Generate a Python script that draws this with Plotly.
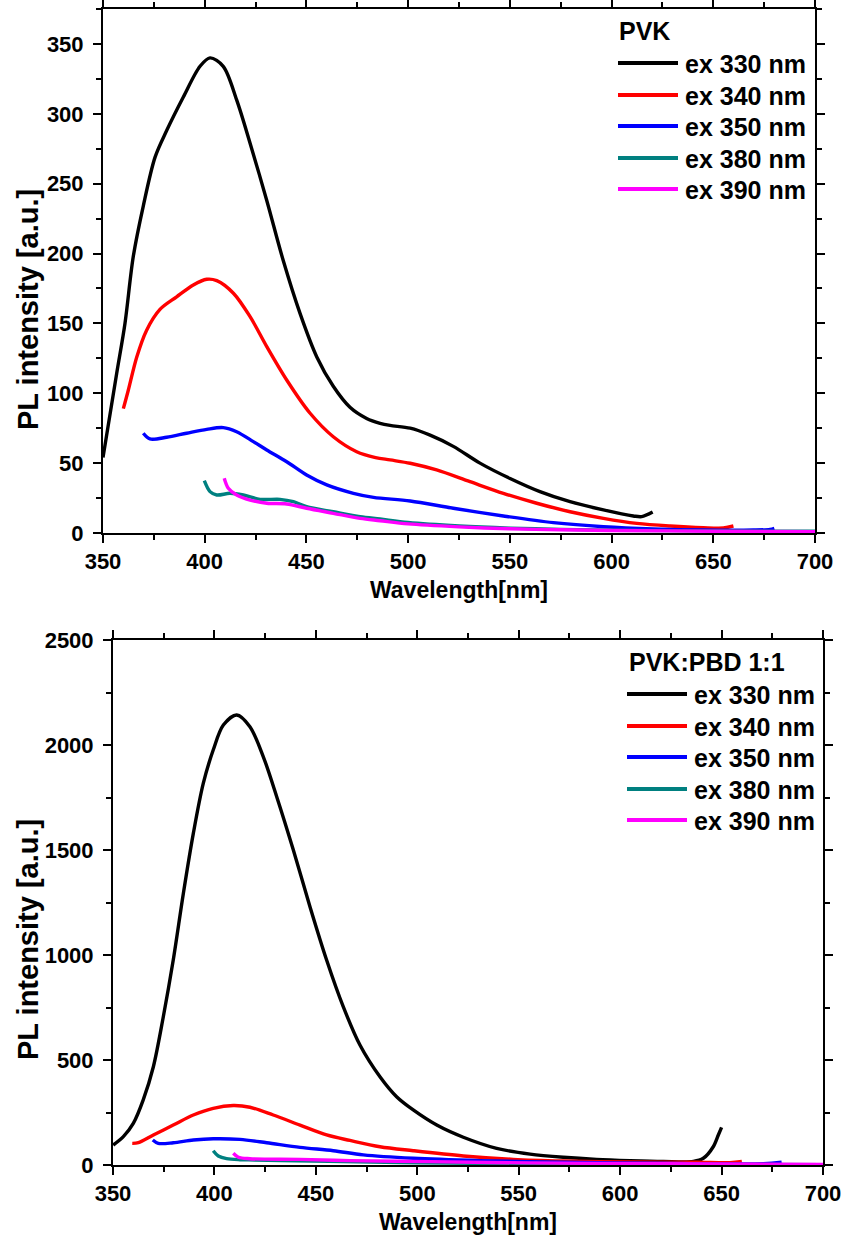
import plotly.graph_objects as go

# ---------------- data: PVK (top) ----------------
pvk_330_x = [350, 356.7, 360.8, 364.9, 369.8, 375.6, 381.3, 389.5, 397.7, 402.6, 409.1, 415.7, 422.3,
             430.5, 438.6, 446.9, 455.1, 463.2, 471.4, 479.6, 486.2, 491.1, 501, 510.8, 522.2, 535.3,
             550.1, 564.8, 579.6, 596, 610.7, 614.8, 620.2]
pvk_330_y = [54, 114, 150, 198, 234, 269, 288, 312, 334, 340, 334, 310, 279,
             238, 195, 157, 126, 105, 90, 82, 78.5, 77, 75, 70, 62, 50,
             39, 29.6, 22.4, 16.5, 12.2, 11.7, 15]

pvk_340_x = [360, 362.4, 366.6, 371.4, 378, 386.2, 394.4, 401, 405.9, 414.1, 422.3, 430.5, 440.3,
             451.8, 463.2, 474.7, 484, 491.1, 501, 514, 530.4, 546.8, 563.2, 579.6, 596, 612.4,
             628.8, 645.1, 655, 659.9]
pvk_340_y = [89, 102, 126, 145, 160, 169, 177.5, 181.6, 180.6, 171.6, 154.8, 133.4, 109.5,
             85.7, 68.9, 58.2, 54, 52.3, 49.9, 45.1, 36.7, 28.4, 21.3, 15.2, 10.5, 6.9,
             5, 3.8, 3.6, 5]

pvk_350_x = [369.8, 373.1, 381.3, 391.1, 401, 409.1, 415.7, 423.9, 430.5, 440.3, 450.1, 460, 473.1,
             483, 501, 522.2, 546.8, 571.4, 596, 620.6, 645.1, 669.7, 677.9, 680]
pvk_350_y = [71.4, 67.3, 68.5, 71.4, 74.2, 75.4, 72.5, 65.4, 59.4, 51, 41.5, 34.4, 28.4,
             25.5, 22.9, 17.7, 12.2, 7.4, 4.5, 2.9, 2.1, 2.1, 2.6, 3.4]

pvk_380_x = [399.8, 402.6, 405.9, 412.4, 419, 427.2, 437, 443.6, 450.1, 463.2, 476.4, 486.2,
             500, 525, 550, 575, 600, 650, 700]
pvk_380_y = [37.4, 29.6, 27.2, 28.4, 27.2, 24.1, 24.1, 22.4, 18.8, 15.2, 11.7, 10,
             7.5, 5, 3.5, 2.6, 2, 1.5, 1.2]

pvk_390_x = [409.6, 411.6, 415.7, 422.3, 430.5, 440.3, 450.1, 463.2, 476.4, 486.2,
             500, 525, 550, 575, 600, 650, 700]
pvk_390_y = [39.2, 32, 27.2, 23.6, 21.3, 20.8, 17.7, 14.1, 10.5, 8.8,
             6.5, 4.4, 3, 2.3, 1.8, 1.3, 1]

# ---------------- data: PVK:PBD 1:1 (bottom) ----------------
pbd_330_x = [350.1, 355.1, 360, 364.9, 369.9, 374.8, 379.7, 384.7, 389.6, 394.5, 399.4, 404.4, 411,
             417.5, 424.1, 430.7, 438.9, 447.1, 455.3, 463.5, 471.8, 481.6, 489.8, 498, 509.6,
             522.7, 539.1, 555.6, 572, 588.4, 604.9, 621.3, 636.1, 641, 645.9, 648.4, 650]
pbd_330_y = [95, 135, 198, 310, 468, 706, 976, 1294, 1579, 1817, 1976, 2095, 2143,
             2087, 1944, 1754, 1500, 1230, 976, 754, 570, 420, 325, 262, 190,
             132, 79, 52, 37, 27, 21, 17, 17, 32, 87, 143, 179]

pbd_340_x = [359.5, 362.5, 369.9, 379.7, 389.6, 399.4, 409.3, 417.5, 429, 442.2, 455.3, 466.8,
             481.6, 498, 522.7, 547.3, 572, 604.9, 637.7, 654.1, 660]
pbd_340_y = [103, 106, 143, 190, 238, 270, 283, 275, 238, 190, 143, 117,
             87, 68, 43, 27, 19, 14, 13, 11, 17]

pbd_350_x = [369.6, 372.3, 379.7, 389.6, 399.4, 412.6, 425.8, 442.2, 458.6, 473.4, 498,
             530.9, 572, 621.3, 670.6, 679.6]
pbd_350_y = [119, 103, 106, 119, 125, 122, 106, 84, 68, 48, 32,
             21, 13, 8, 6, 13]

pbd_380_x = [399.4, 401.9, 406, 412.6, 420, 440, 470, 500, 550, 600, 650, 700]
pbd_380_y = [68, 43, 30, 25, 24, 20, 15, 11, 7, 5, 3, 2]

pbd_390_x = [409.3, 411.8, 417.5, 442.2, 466.8, 506.3, 555, 621, 700]
pbd_390_y = [56, 37, 30, 27, 21, 16, 10, 6, 3]

names = ["ex 330 nm", "ex 340 nm", "ex 350 nm", "ex 380 nm", "ex 390 nm"]
colors = ["#000000", "#FF0000", "#0000FF", "#008080", "#FF00FF"]

top_series = [(pvk_330_x, pvk_330_y), (pvk_340_x, pvk_340_y), (pvk_350_x, pvk_350_y),
              (pvk_380_x, pvk_380_y), (pvk_390_x, pvk_390_y)]
bot_series = [(pbd_330_x, pbd_330_y), (pbd_340_x, pbd_340_y), (pbd_350_x, pbd_350_y),
              (pbd_380_x, pbd_380_y), (pbd_390_x, pbd_390_y)]

W, H = 841, 1247
FONT = "Liberation Sans, Arial, sans-serif"

fig = go.Figure()
for (xs, ys), nm, c in zip(top_series, names, colors):
    fig.add_trace(go.Scatter(x=xs, y=ys, name=nm, mode="lines", xaxis="x", yaxis="y",
                             line=dict(color=c, width=3.4, shape="spline", smoothing=0.9),
                             showlegend=False))
for (xs, ys), nm, c in zip(bot_series, names, colors):
    fig.add_trace(go.Scatter(x=xs, y=ys, name=nm, mode="lines", xaxis="x2", yaxis="y2",
                             line=dict(color=c, width=3.4, shape="spline", smoothing=0.9),
                             showlegend=False))

def px(x):
    return x / W

def py(y):
    return 1 - y / H

tickfont = dict(family=FONT, size=22, color="black", weight="bold")
titlefont = dict(family=FONT, size=23, color="black", weight="bold")

common = dict(showline=True, linewidth=2, linecolor="black", mirror="ticks",
              ticks="outside", ticklen=8, tickwidth=2, tickcolor="black",
              showgrid=False, zeroline=False, tickfont=tickfont, automargin=False,
              ticklabeloverflow="allow")

fig.update_layout(
    width=W, height=H,
    margin=dict(l=0, r=0, t=0, b=0),
    paper_bgcolor="white", plot_bgcolor="white",
    xaxis=dict(domain=[px(103), px(815)], range=[350, 700], anchor="y",
               tick0=350, dtick=50,
               minor=dict(ticks="outside", ticklen=5, dtick=25, tickwidth=2, tickcolor="black"),
               title=dict(text="Wavelength[nm]", font=titlefont, standoff=8), **common),
    yaxis=dict(domain=[py(533), py(9)], range=[0, 375], anchor="x",
               tick0=0, dtick=50, ticklabelstandoff=5,
               minor=dict(ticks="outside", ticklen=5, dtick=25, tickwidth=2, tickcolor="black"),
               **common),
    xaxis2=dict(domain=[px(113), px(823)], range=[350, 700], anchor="y2",
                tick0=350, dtick=50,
                minor=dict(ticks="outside", ticklen=5, dtick=25, tickwidth=2, tickcolor="black"),
                title=dict(text="Wavelength[nm]", font=titlefont, standoff=8), **common),
    yaxis2=dict(domain=[py(1165), py(640)], range=[0, 2500], anchor="x2",
                tick0=0, dtick=500, ticklabelstandoff=5,
                minor=dict(ticks="outside", ticklen=5, dtick=250, tickwidth=2, tickcolor="black"),
                **common),
)

annotations = []
shapes = []

# y-axis titles
for yc in (310, 940):
    annotations.append(dict(text="PL intensity [a.u.]", x=px(28), y=py(yc), xref="paper", yref="paper",
                            showarrow=False, textangle=-90, xanchor="center", yanchor="middle",
                            font=dict(family=FONT, size=29, color="black", weight="bold")))

legfont = dict(family=FONT, size=25, color="black", weight="bold")

def add_legend(title, title_x, title_y, line_x0, line_x1, text_x, rows_y):
    annotations.append(dict(text=title, x=px(title_x), y=py(title_y), xref="paper", yref="paper",
                            showarrow=False, xanchor="left", yanchor="middle", font=legfont))
    for nm, c, ry in zip(names, colors, rows_y):
        shapes.append(dict(type="line", xref="paper", yref="paper",
                           x0=px(line_x0), x1=px(line_x1), y0=py(ry), y1=py(ry),
                           line=dict(color=c, width=4)))
        annotations.append(dict(text=nm, x=px(text_x), y=py(ry + 1), xref="paper", yref="paper",
                                showarrow=False, xanchor="left", yanchor="middle", font=legfont))

add_legend("PVK", 617, 31, 618, 678, 683, [63, 95, 126, 158, 189])
add_legend("PVK:PBD 1:1", 627, 662, 627, 687, 692, [694, 726, 757, 789, 820])

fig.update_layout(annotations=annotations, shapes=shapes)

fig.write_html("out.html", config={"displayModeBar": False},
               post_script="document.body.style.margin='0';document.body.style.overflow='hidden';")
